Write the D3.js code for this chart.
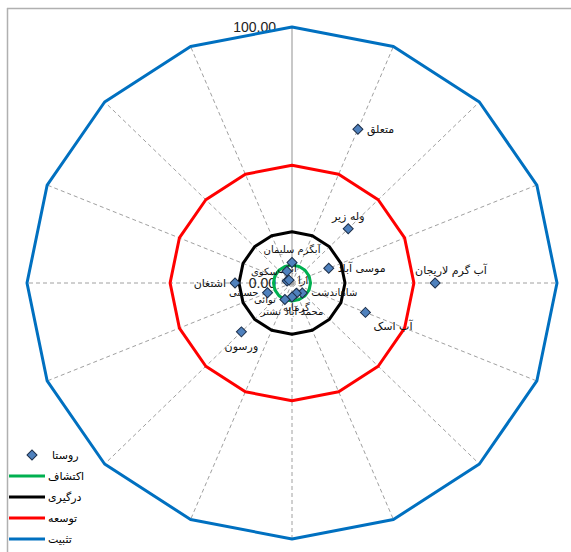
<!DOCTYPE html>
<html>
<head>
<meta charset="utf-8">
<script src="https://cdn.jsdelivr.net/npm/d3@7"></script>
<style>
  body { margin: 0; background: #fff; }
  text { font-family: "DejaVu Sans", sans-serif; }
</style>
</head>
<body>
<div id="chart"></div>
<script>
// villages, one per spoke (clockwise from top)
const villages = ["آبگرم سلیمان", "متعلق", "وله زیر", "موسی آباد", "آب گرم لاریجان", "آب اسک",
  "شاهاندشت", "گرمابه", "محمد آباد نشتر", "نوائی", "ورسون", "حسینی",
  "اشتغان", "آبکی", "ارا", "سکوی"];
const villageValues = [8, 65, 30, 15, 54, 30, 5.5, 4.3, 5.5, 7, 27, 10, 21.5, 2, 1.6, 5];

// stage rings (constant value on every spoke)
const stageNames = ["اکتشاف", "درگیری", "توسعه", "تثبیت"];
const stageValues = [7, 20, 46, 100];
const stageColors = ["#00b050", "#000000", "#ff0000", "#0070c0"];

const pointName = "روستا";
const axisTicks = [0, 100];

// where each village label sits relative to its marker (layout only)
const labelSide = ["top", "right", "top", "right", "topright", "bottomright", "right", "bottom",
  "bottom", "left", "bottom", "left", "left", "top", "right", "left"];

const width = 571, height = 552;
const cx = 292, cy = 283;

const svg = d3.select("#chart").append("svg")
    .attr("width", width)
    .attr("height", height);

// plot frame (only top and left edges show)
svg.append("line").attr("x1", 7.5).attr("x2", 7.5).attr("y1", 8).attr("y2", height)
    .attr("stroke", "#b0b0b0").attr("stroke-width", 1.5);
svg.append("line").attr("x1", 7).attr("x2", width).attr("y1", 8.5).attr("y2", 8.5)
    .attr("stroke", "#b0b0b0").attr("stroke-width", 1.5);

// picture is slightly squashed vertically, so two radial scales
const rx = d3.scaleLinear().domain([0, 100]).range([0, 265]);
const ry = d3.scaleLinear().domain([0, 100]).range([0, 256]);
const angle = d3.scalePoint().domain(d3.range(villages.length + 1)).range([0, 2 * Math.PI]);

const px = (i, v) => cx + rx(v) * Math.sin(angle(i));
const py = (i, v) => cy - ry(v) * Math.cos(angle(i));

// spokes
const spokes = svg.append("g");
villages.forEach((d, i) => {
    spokes.append("line")
        .attr("x1", cx).attr("y1", cy)
        .attr("x2", px(i, 100)).attr("y2", py(i, 100))
        .attr("stroke", i === 0 ? "#c8c8c8" : "#a0a0a0")
        .attr("stroke-width", i === 0 ? 2 : 1)
        .attr("stroke-dasharray", i === 0 ? null : "4,3");
});

// axis labels along the vertical spoke
svg.selectAll(".tick-label")
    .data(axisTicks)
    .enter().append("text")
    .attr("class", "tick-label")
    .attr("x", cx - 16)
    .attr("y", d => cy - ry(d))
    .attr("dy", "0.35em")
    .attr("text-anchor", "end")
    .attr("font-size", 14)
    .attr("fill", "#222")
    .style("font-family", "'Liberation Sans', Arial, sans-serif")
    .text(d => d3.format(".2f")(d));

// stage rings
const ring = d3.line()
    .x(d => px(d.i, d.v))
    .y(d => py(d.i, d.v))
    .curve(d3.curveLinearClosed);

stageValues.forEach((v, k) => {
    svg.append("path")
        .datum(villages.map((d, i) => ({i: i, v: v})))
        .attr("d", ring)
        .attr("fill", "none")
        .attr("stroke", stageColors[k])
        .attr("stroke-width", 3)
        .attr("stroke-linejoin", "round");
});

// village labels
const off = {top: [0, -13], bottom: [0, 14], left: [-9, 0], right: [9, 0],
    topright: [-20, -13], bottomright: [8, 14]};
const anchor = {top: "middle", bottom: "middle", left: "end", right: "start",
    topright: "start", bottomright: "start"};
svg.selectAll(".vlabel")
    .data(villages)
    .enter().append("text")
    .attr("class", "vlabel")
    .attr("x", (d, i) => px(i, villageValues[i]) + off[labelSide[i]][0])
    .attr("y", (d, i) => py(i, villageValues[i]) + off[labelSide[i]][1])
    .attr("dy", "0.35em")
    .attr("text-anchor", (d, i) => anchor[labelSide[i]])
    .attr("font-size", (d, i) => villageValues[i] < 12 ? 10 : 11)
    .attr("fill", "#111")
    .text(d => d);

// village markers
const diamond = d3.symbol(d3.symbolSquare, 50);
svg.selectAll(".dot")
    .data(villageValues)
    .enter().append("path")
    .attr("class", "dot")
    .attr("d", diamond)
    .attr("transform", (d, i) => "translate(" + px(i, d) + "," + py(i, d) + ") rotate(45)")
    .attr("fill", "#4f81bd")
    .attr("stroke", "#1d2f4a")
    .attr("stroke-width", 1);

// legend
const legend = svg.append("g");
const rowY = d3.scaleLinear().domain([0, 4]).range([455, 539]);

legend.append("path")
    .attr("d", diamond)
    .attr("transform", "translate(32," + rowY(0) + ") rotate(45)")
    .attr("fill", "#4f81bd")
    .attr("stroke", "#1d2f4a");
legend.append("text")
    .attr("x", 52).attr("y", rowY(0)).attr("dy", "0.35em")
    .attr("font-size", 11)
    .text(pointName);

stageNames.forEach((name, k) => {
    legend.append("line")
        .attr("x1", 9).attr("x2", 45)
        .attr("y1", rowY(k + 1)).attr("y2", rowY(k + 1))
        .attr("stroke", stageColors[k])
        .attr("stroke-width", 3);
    legend.append("text")
        .attr("x", 48).attr("y", rowY(k + 1)).attr("dy", "0.35em")
        .attr("font-size", 11)
        .text(name);
});
</script>
</body>
</html>
